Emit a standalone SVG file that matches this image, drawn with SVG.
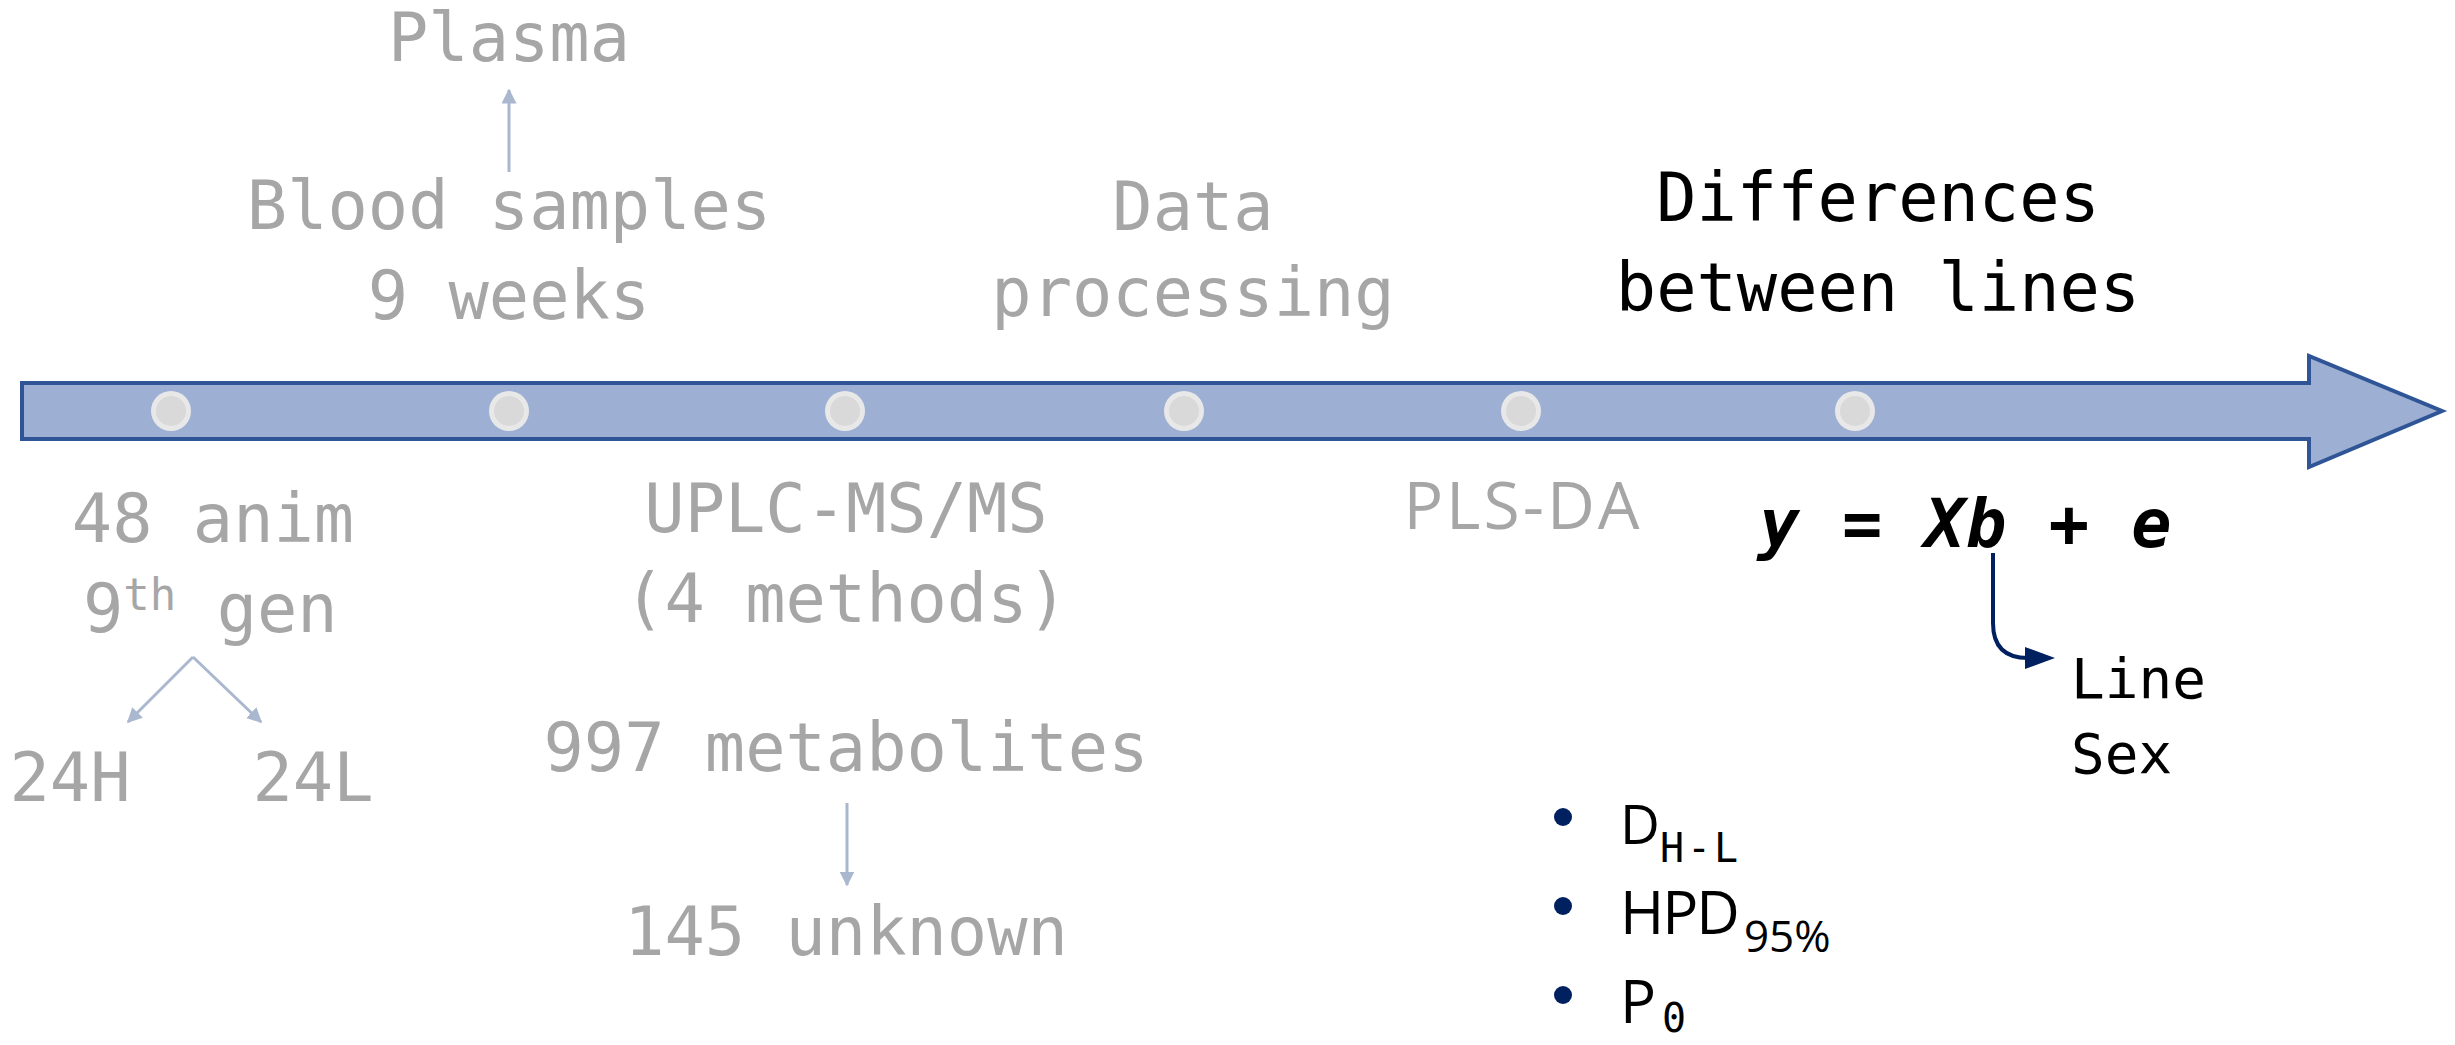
<svg xmlns="http://www.w3.org/2000/svg" width="2455" height="1045" viewBox="0 0 2455 1045">
<style>
.m{font-family:"DejaVu Sans Mono","Liberation Mono",monospace;font-size:67px;fill:#a6a6a6}
.c{text-anchor:middle}
.k{fill:#000}
.sm{font-size:56px}
.s{font-family:"Open Sans","Noto Sans",sans-serif;font-size:55px;fill:#000}
.big{font-size:60px;letter-spacing:-2px}
.g{stroke:#aab8cf;stroke-width:3;fill:none}
.ring{fill:#e8e8e8}
.core{fill:#d9d9d9}
.bul{fill:#002060}
</style>
<defs>
<marker id="ag" viewBox="0 0 10 10" refX="9" refY="5" markerWidth="5" markerHeight="5" orient="auto" markerUnits="strokeWidth">
<path d="M0,0 L10,5 L0,10 z" fill="#aab8cf"/>
</marker>
</defs>
<rect width="2455" height="1045" fill="#fff"/>
<g id="timeline">
<polygon points="22,383 2309,383 2309,356 2442,411 2309,467 2309,439 22,439" fill="#9db0d3" stroke="#2f5597" stroke-width="4"/>
<g id="dots">
<circle class="ring" cx="171" cy="411" r="20"/><circle class="core" cx="171" cy="411" r="15"/>
<circle class="ring" cx="509" cy="411" r="20"/><circle class="core" cx="509" cy="411" r="15"/>
<circle class="ring" cx="845" cy="411" r="20"/><circle class="core" cx="845" cy="411" r="15"/>
<circle class="ring" cx="1184" cy="411" r="20"/><circle class="core" cx="1184" cy="411" r="15"/>
<circle class="ring" cx="1521" cy="411" r="20"/><circle class="core" cx="1521" cy="411" r="15"/>
<circle class="ring" cx="1855" cy="411" r="20"/><circle class="core" cx="1855" cy="411" r="15"/>
</g>
</g>
<g id="animals">
<text class="m c" x="213" y="542">48 anim</text>
<text class="m" x="83" y="632">9<tspan font-size="44" dy="-22">th</tspan><tspan dy="22"> gen</tspan></text>
</g>
<g id="h24"><text class="m c" x="70" y="801">24H</text></g>
<g id="l24"><text class="m c" x="313" y="801">24L</text></g>
<g id="blood">
<text class="m c" x="509" y="229">Blood samples</text>
<text class="m c" x="509" y="319">9 weeks</text>
</g>
<g id="plasma"><text class="m c" x="509" y="61">Plasma</text></g>
<g id="uplc">
<text class="m c" x="846" y="532">UPLC-MS/MS</text>
<text class="m c" x="846" y="622">(4 methods)</text>
</g>
<g id="metabolites"><text class="m c" x="846" y="771">997 metabolites</text></g>
<g id="unknown"><text class="m c" x="846" y="955">145 unknown</text></g>
<g id="data">
<text class="m c" x="1193" y="230">Data</text>
<text class="m c" x="1193" y="316">processing</text>
</g>
<g id="plsda"><text x="1523" y="529" font-family="'Open Sans','Noto Sans',sans-serif" font-size="66" fill="#a6a6a6" text-anchor="middle" letter-spacing="3">PLS-DA</text></g>
<g id="differences">
<text class="m c k" x="1878" y="221">Differences</text>
<text class="m c k" x="1878" y="311">between lines</text>
</g>
<g id="model">
<text class="m c k" x="1966" y="547" font-weight="bold" font-style="italic" letter-spacing="1">y = Xb + e</text>
</g>
<g id="effects">
<text class="m k sm" x="2071" y="698">Line</text>
<text class="m k sm" x="2071" y="773">Sex</text>
</g>
<g id="stats">
<circle class="bul" cx="1563" cy="817" r="9"/>
<circle class="bul" cx="1563" cy="906" r="9"/>
<circle class="bul" cx="1563" cy="995" r="9"/>
<text class="s" x="1620" y="844">D<tspan font-family="'DejaVu Sans Mono',monospace" font-size="40" dy="18" letter-spacing="3">H-L</tspan></text>
<text class="s" x="1620" y="934"><tspan class="big">HPD</tspan><tspan font-size="44" dx="6" dy="18">95%</tspan></text>
<text class="s" x="1620" y="1023"><tspan class="big">P</tspan><tspan font-family="'DejaVu Sans Mono',monospace" font-size="40" dx="8" dy="9">0</tspan></text>
</g>
<g id="connectors">
<line class="g" x1="509" y1="172" x2="509" y2="90" marker-end="url(#ag)"/>
<line class="g" x1="193" y1="657" x2="128" y2="722" marker-end="url(#ag)"/>
<line class="g" x1="193" y1="657" x2="261" y2="722" marker-end="url(#ag)"/>
<line class="g" x1="847" y1="803" x2="847" y2="885" marker-end="url(#ag)"/>
<path d="M1993,553 V623 Q1993,658 2028,658" fill="none" stroke="#002060" stroke-width="4"/>
<polygon points="2025,647 2055,658 2025,669" fill="#002060"/>
</g>
</svg>
